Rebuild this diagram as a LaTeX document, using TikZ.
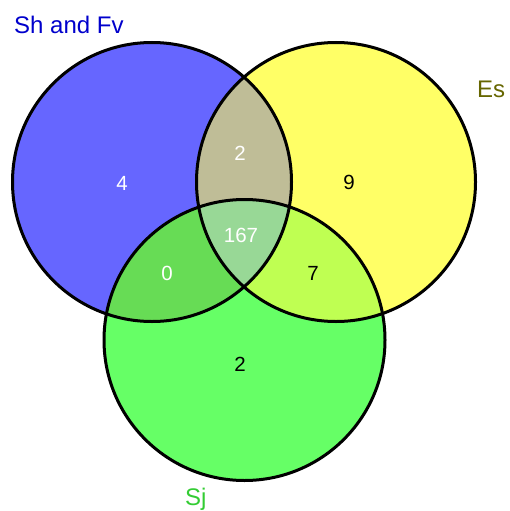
\documentclass[tikz,border=0pt]{standalone}
\usepackage{fontspec}
\setmainfont{Liberation Sans}
\definecolor{setA}{RGB}{102,102,255}
\definecolor{setB}{RGB}{255,255,102}
\definecolor{setC}{RGB}{102,255,102}
\definecolor{setAB}{RGB}{191,189,151}
\definecolor{setAC}{RGB}{103,220,85}
\definecolor{setBC}{RGB}{191,255,82}
\definecolor{setABC}{RGB}{152,216,150}
\definecolor{labA}{RGB}{0,0,204}
\definecolor{labB}{RGB}{102,102,0}
\definecolor{labC}{RGB}{51,204,51}
\tikzset{
  count/.style={font=\fontsize{20.5}{24}\selectfont, inner sep=0pt},
  setname/.style={font=\fontsize{24}{28}\selectfont, inner sep=0pt},
  rim/.style={draw=black, line width=3pt}
}
\begin{document}
\begin{tikzpicture}[x=1pt,y=-1pt]
\useasboundingbox (0,0) rectangle (510,511);
\def\circA{(152,182) circle (139.5pt)}
\def\circB{(336,182) circle (139.5pt)}
\def\circC{(244.5,340) circle (140.5pt)}
% single regions
\fill[setA] \circA;
\fill[setB] \circB;
\fill[setC] \circC;
% pairwise overlaps
\begin{scope}\clip \circA; \fill[setAB] \circB; \end{scope}
\begin{scope}\clip \circA; \fill[setAC] \circC; \end{scope}
\begin{scope}\clip \circB; \fill[setBC] \circC; \end{scope}
% triple overlap
\begin{scope}\clip \circA; \clip \circB; \fill[setABC] \circC; \end{scope}
% outlines
\draw[rim] \circA;
\draw[rim] \circB;
\draw[rim] \circC;
% counts
\node[count, text=white] (nA) at (122,183) {4};
\node[count, text=white] (nAB) at (240,153) {2};
\node[count, text=black] (nB) at (349,182) {9};
\node[count, text=white] (nABC) at (241,235) {167};
\node[count, text=white] (nAC) at (167,273) {0};
\node[count, text=black] (nBC) at (313,273) {7};
\node[count, text=black] (nC) at (240,364) {2};
% set names
\node[setname, text=labA, anchor=west] (tA) at (14,25) {Sh and Fv};
\node[setname, text=labB, anchor=west] (tB) at (477,89) {Es};
\node[setname, text=labC, anchor=west] (tC) at (185,499) {Sj};
\end{tikzpicture}
\end{document}
